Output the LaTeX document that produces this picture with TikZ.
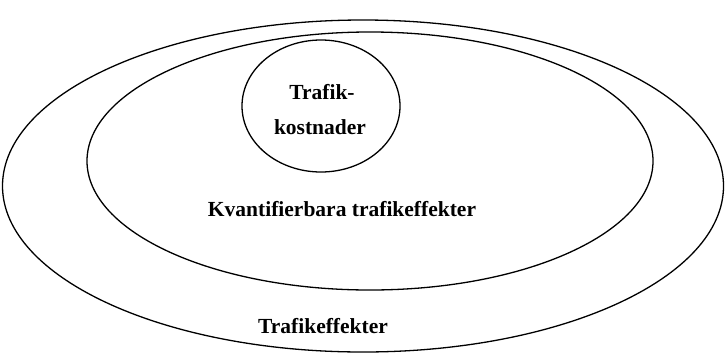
\documentclass[tikz,border=0pt]{standalone}
\usepackage{fontspec}
\setmainfont{Liberation Serif}
\usetikzlibrary{shapes.geometric}
\begin{document}
\begin{tikzpicture}[x=1pt,y=-1pt,
  ring/.style={draw=black, line width=1.3pt, ellipse, inner sep=0pt},
  lbl/.style={font=\fontsize{21.5}{24}\selectfont\bfseries, inner sep=0pt, anchor=center}]
\useasboundingbox (0,0) rectangle (725,354);
\node[ring, minimum width=721pt, minimum height=332pt] (outer) at (363,186) {};
\node[ring, minimum width=566pt, minimum height=258pt] (middle) at (370,161) {};
\node[ring, minimum width=158pt, minimum height=132pt] (inner) at (321,106) {};
\node[lbl] (t1) at (322,92) {Trafik-};
\node[lbl] (t2) at (320,127) {kostnader};
\node[lbl] (t3) at (342,209) {Kvantifierbara trafikeffekter};
\node[lbl] (t4) at (323,326) {Trafikeffekter};
\end{tikzpicture}
\end{document}
